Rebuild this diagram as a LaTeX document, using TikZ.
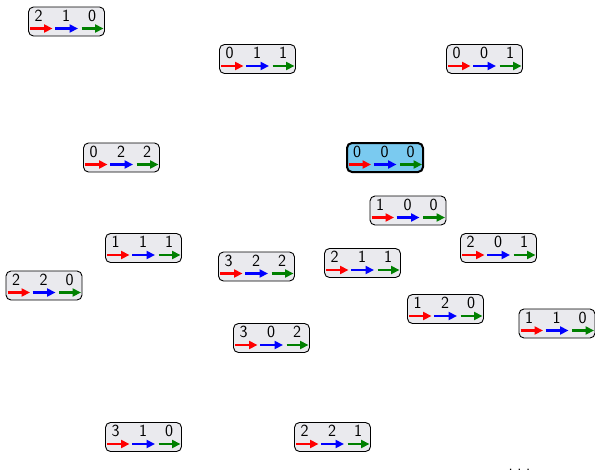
\documentclass[tikz,border=0pt]{standalone}
\usetikzlibrary{arrows.meta}
\definecolor{boxgray}{RGB}{234,234,238}
\definecolor{hlblue}{RGB}{122,202,240}
\definecolor{dgreen}{RGB}{0,128,0}
\tikzset{
  statebox/.style={draw=black, rounded corners=5pt, fill=boxgray, minimum width=76pt, minimum height=29pt, line width=0.9pt, inner sep=0pt},
  hstatebox/.style={statebox, fill=hlblue, line width=2pt},
  digit/.style={font=\sffamily\fontsize{17}{17}\selectfont, inner sep=0pt, anchor=base},
  arr/.style={line width=2.2pt, -{Triangle[length=8.5pt,width=8pt]}},
}
\newcommand\statenode[7]{%
  \node[#7] (#1) at (#2,#3) {};
  \node[digit] (#1-a) at ([xshift=-28pt,yshift=0.5pt]#1.center) {#4};
  \node[digit] (#1-b) at ([xshift=-0.5pt,yshift=0.5pt]#1.center) {#5};
  \node[digit] (#1-c) at ([xshift=25.5pt,yshift=0.5pt]#1.center) {#6};
  \draw[arr, red] ([xshift=-36.5pt,yshift=-7pt]#1.center) -- ([xshift=-14pt,yshift=-7pt]#1.center);
  \draw[arr, blue] ([xshift=-11.5pt,yshift=-7pt]#1.center) -- ([xshift=11.5pt,yshift=-7pt]#1.center);
  \draw[arr, dgreen] ([xshift=15pt,yshift=-7pt]#1.center) -- ([xshift=37pt,yshift=-7pt]#1.center);
}
\begin{document}
\begin{tikzpicture}[x=1pt,y=-1pt]
\useasboundingbox (0,0) rectangle (595,475);
\statenode{s210}{66.5}{21.5}{2}{1}{0}{statebox}
\statenode{s011}{257.5}{59}{0}{1}{1}{statebox}
\statenode{s001}{484.5}{59}{0}{0}{1}{statebox}
\statenode{s022}{121.5}{157.5}{0}{2}{2}{statebox}
\statenode{s000}{385}{157.5}{0}{0}{0}{hstatebox}
\statenode{s100}{408}{210.5}{1}{0}{0}{statebox}
\statenode{s111}{143.5}{248}{1}{1}{1}{statebox}
\statenode{s201}{498.5}{248}{2}{0}{1}{statebox}
\statenode{s322}{256.5}{266.5}{3}{2}{2}{statebox}
\statenode{s211}{362.5}{263}{2}{1}{1}{statebox}
\statenode{s220}{44}{285.5}{2}{2}{0}{statebox}
\statenode{s120}{445.5}{309}{1}{2}{0}{statebox}
\statenode{s110}{557}{323.5}{1}{1}{0}{statebox}
\statenode{s302}{271.5}{338}{3}{0}{2}{statebox}
\statenode{s310}{143.5}{437}{3}{1}{0}{statebox}
\statenode{s221}{332.5}{437}{2}{2}{1}{statebox}
\node[font=\sffamily\fontsize{16}{16}\selectfont, inner sep=0pt, anchor=base] (dots) at (519.5,470.5) {.\hspace{4.5pt}.\hspace{4.5pt}.};
\end{tikzpicture}
\end{document}
